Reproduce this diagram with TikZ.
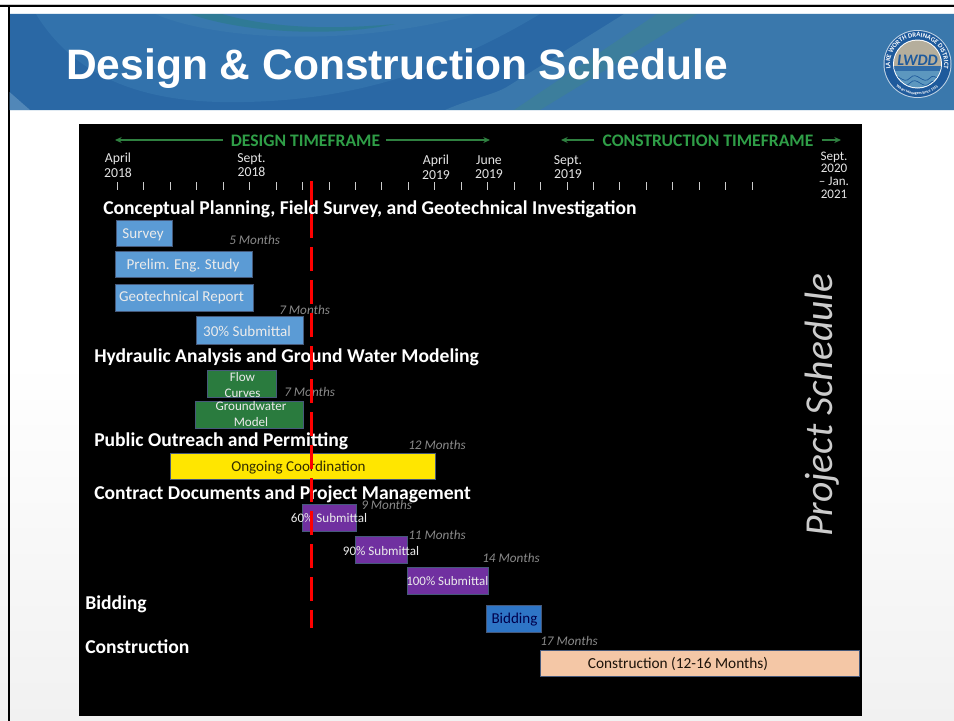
\documentclass[tikz,border=0pt]{standalone}
\usepackage{fontspec}
\setmainfont{Carlito}
\newfontfamily\arialfont{Liberation Sans}
\usetikzlibrary{arrows.meta,decorations.text,shadings}
\definecolor{bandA}{HTML}{3A78AC}
\definecolor{bandB}{HTML}{2A68A5}
\definecolor{bandM}{HTML}{3272AC}
\definecolor{bandL}{HTML}{3878AE}
\definecolor{teal1}{HTML}{3C7E9C}
\definecolor{teal2}{HTML}{2F7A96}
\definecolor{ringblue}{HTML}{1E5A9C}
\definecolor{sky}{HTML}{B5AE9C}
\definecolor{water}{HTML}{5C97BF}
\definecolor{pageB}{HTML}{F1F1F1}
\definecolor{tgreen}{HTML}{2F9E47}
\definecolor{agreen}{HTML}{2F8040}
\definecolor{mon}{HTML}{8A8A8A}
\definecolor{lblue}{HTML}{5B9BD5}
\definecolor{dgreen}{HTML}{2A7B3E}
\definecolor{yel}{HTML}{FFE600}
\definecolor{purp}{HTML}{7030A0}
\definecolor{bid}{HTML}{2E75C6}
\definecolor{peach}{HTML}{F4C7A6}
\definecolor{edge}{HTML}{46597A}
\tikzset{
  barbox/.style={draw=edge,line width=0.7pt,inner sep=0pt,outer sep=0pt},
  bartext/.style={inner sep=0pt,yshift=-0.7pt,text=white!92!black,font=\fontsize{11.3}{12}\selectfont,align=center},
  smallbar/.style={font=\fontsize{9.8}{12}\selectfont},
  headtext/.style={inner sep=0pt,yshift=-1.1pt,anchor=west,text=white,font=\fontsize{14.7}{16}\selectfont\bfseries},
  monthtext/.style={inner sep=0pt,anchor=west,text=mon,font=\fontsize{9.9}{10}\selectfont\itshape},
  datetext/.style={inner sep=0pt,text=white!90!black,font=\fontsize{10.3}{11}\selectfont,align=center},
  frametext/.style={inner sep=0pt,text=tgreen,font=\fontsize{13.2}{14}\selectfont\bfseries},
  framearrow/.style={draw=agreen,line width=0.8pt,-{Stealth[length=5pt,width=4.5pt]}},
  tickmark/.style={draw=white!80!black,line width=0.6pt},
  redline/.style={draw=red,line width=1.9pt,dash pattern=on 18pt off 6.75pt}
}
\newcommand{\barnode}[6]{\node[barbox,fill=#6,minimum width={(#4-#2)*0.75pt},minimum height={(#5-#3)*0.75pt}] (#1) at ({(#2+#4)/2},{(#3+#5)/2}) {};}
\begin{document}
\begin{tikzpicture}[x=0.75pt,y=-0.75pt]
\useasboundingbox (0,0) rectangle (954,721);
% page
\shade[top color=white,bottom color=pageB,middle color=white] (0,0) rectangle (954,721);
\fill[white] (0,0) rectangle (954,115);
\fill[white!60!gray] (0,3.5) rectangle (954,5);
\fill[black] (0,5) rectangle (954,7);
\fill[black] (7.5,5) rectangle (9.5,721);
% header band
\begin{scope}
\clip (9.5,14) rectangle (954,110);
\fill[bandB] (9.5,14) rectangle (954,110);
\fill[bandM] (36,14) .. controls (70,70) and (130,100) .. (220,102) .. controls (330,104) and (430,80) .. (540,14) -- cycle;
\fill[bandL] (155,14) .. controls (210,38) and (340,50) .. (475,14) -- cycle;
\fill[bandA] (624,14) -- (954,14) -- (954,110) -- (445,110) .. controls (475,97) and (495,95) .. (510,85) -- cycle;
\fill[bandM!85!white] (9.5,92) -- (30,110) -- (9.5,110) -- cycle;
\fill[teal2] (190,14) .. controls (240,32) and (330,38) .. (395,24) .. controls (330,30) and (270,28) .. (222,14) -- cycle;
\fill[teal1] (657,14) -- (697,14) -- (540,110) -- (514,110) -- cycle;
\end{scope}
\fill[white!85!bandA] (9.5,109.5) rectangle (954,111);
\fill[white!85!bandA] (9.5,12.5) rectangle (954,14);
\node[inner sep=0pt,anchor=west,text=white,font=\arialfont\fontsize{31.9}{36}\selectfont\bfseries] (title) at (66,68.5) {Design \& Construction Schedule};
% logo
\fill[white!70!bandB] (917.5,64) circle[radius=34*0.75pt];
\fill[ringblue] (917.5,64) circle[radius=33*0.75pt];
\fill[white] (917.5,64) circle[radius=24.5*0.75pt];
\begin{scope}
\clip (917.5,64) circle[radius=23.5*0.75pt];
\fill[sky] (890,38) rectangle (945,66);
\fill[water] (890,66) rectangle (945,92);
\fill[ringblue!70!water] (890,66) rectangle (945,71);
\draw[ringblue,line width=0.5pt] (890,78) .. controls (897,70) and (903,86) .. (910,78) .. controls (917,70) and (923,86) .. (930,78) .. controls (935,72) and (940,84) .. (945,78);
\draw[ringblue,line width=0.5pt] (890,83) .. controls (897,75) and (903,91) .. (910,83) .. controls (917,75) and (923,91) .. (930,83) .. controls (935,77) and (940,89) .. (945,83);
\end{scope}
\node[inner sep=0pt,text=ringblue,font=\fontsize{12}{14}\selectfont\bfseries\itshape] (logoname) at (917.5,60.5) {LWDD};
\path[decorate,decoration={text along path,text align=center,text={|\fontsize{5}{5}\selectfont\bfseries\color{white}|LAKE WORTH DRAINAGE DISTRICT}}]
  (891,70.5) arc[start angle=194,end angle=-14,radius=27*0.75pt];
\path[decorate,decoration={text along path,reverse path,text align=center,text={|\fontsize{3}{3}\selectfont\bfseries\color{white}|Water Managers Since 1915}}]
  (938,87) arc[start angle=-48,end angle=-132,radius=31*0.75pt];
% panel
\fill[black] (79,124) rectangle (862,716);
% frame labels
\node[frametext] (design) at (305.5,140.5) {DESIGN TIMEFRAME};
\node[frametext] (constr) at (708,140.5) {CONSTRUCTION TIMEFRAME};
\coordinate (dl) at (115,140);
\coordinate (dr) at (490,140);
\coordinate (cl) at (561,140);
\coordinate (cr) at (841,140);
\draw[framearrow] (design.west)+(-8,-0.5) -- (dl);
\draw[framearrow] (design.east)+(6,-0.5) -- (dr);
\draw[framearrow] (constr.west)+(-8,-0.5) -- (cl);
\draw[framearrow] (constr.east)+(8,-0.5) -- (cr);
% dates
\node[datetext] (d1) at (118,165) {April\\2018};
\node[datetext] (d2) at (251.5,165) {Sept.\\2018};
\node[datetext] (d3) at (436,167) {April\\2019};
\node[datetext] (d4) at (489,167) {June\\2019};
\node[datetext] (d5) at (568,167) {Sept.\\2019};
\node[datetext,font=\fontsize{9.8}{9.5}\selectfont] (d6) at (834,175) {Sept.\\2020\\– Jan.\\2021};
% ticks
\foreach \i in {0,...,24}
  \draw[tickmark] ({117.3+26.45*\i},182) -- ({117.3+26.45*\i},190);
% bars
\barnode{survey}{116.7}{220}{172.3}{246.7}{lblue}
\barnode{prelim}{115.5}{251}{252.5}{277.7}{lblue}
\barnode{geo}{115.7}{284}{253}{311}{lblue}
\barnode{sub30}{196.3}{316.7}{303}{344}{lblue}
\barnode{flow}{207.7}{370.3}{276.7}{397}{dgreen}
\barnode{gw}{195.3}{401}{303}{428}{dgreen}
\barnode{ongoing}{170.3}{453.7}{435.3}{479.7}{yel}
\barnode{sub60}{302.3}{504.3}{356}{531}{purp}
\barnode{sub90}{355}{536.7}{407.3}{563}{purp}
\barnode{sub100}{407}{567.7}{488.7}{594.3}{purp}
\barnode{bidbar}{486.7}{605}{541.7}{632.3}{bid}
\barnode{constrbar}{540.7}{650}{859.3}{676.7}{peach}
% bar texts
\node[bartext] (tsurvey) at (143,234) {Survey};
\node[bartext] (tprelim) at (183,264.5) {Prelim. Eng. Study};
\node[bartext] (tgeo) at (181.5,297) {Geotechnical Report};
\node[bartext] (tsub30) at (247,330.5) {30\% Submittal};
\node[bartext,smallbar] (tflow) at (242.5,384) {Flow\\Curves};
\node[bartext,smallbar] (tgw) at (251,413.5) {Groundwater\\Model};
\node[bartext,text=black!80!yel] (tongoing) at (298.5,466.5) {Ongoing Coordination};
\node[bartext,smallbar] (tsub60) at (329,517) {60\% Submittal};
\node[bartext,smallbar] (tsub90) at (381,550.5) {90\% Submittal};
\node[bartext,smallbar,font=\fontsize{9.7}{12}\selectfont] (tsub100) at (447.3,580) {100\% Submittal};
\node[bartext,text=blue!30!black] (tbid) at (514.5,618.5) {Bidding};
\node[bartext,text=black!85!brown,font=\fontsize{11.5}{12}\selectfont] (tconstr) at (678,663.5) {Construction (12-16 Months)};
% headings
\node[headtext] (h1) at (103,207.5) {Conceptual Planning, Field Survey, and Geotechnical Investigation};
\node[headtext] (h2) at (94,355.5) {Hydraulic Analysis and Ground Water Modeling};
\node[headtext] (h3) at (94,439.5) {Public Outreach and Permitting};
\node[headtext] (h4) at (94,492.5) {Contract Documents and Project Management};
\node[headtext] (h5) at (85,602.5) {Bidding};
\node[headtext] (h6) at (85,645.5) {Construction};
% months
\node[monthtext] (m1) at (229,240) {5 Months};
\node[monthtext] (m2) at (279,309.5) {7 Months};
\node[monthtext] (m3) at (284,392) {7 Months};
\node[monthtext] (m4) at (408,445) {12 Months};
\node[monthtext] (m5) at (361,505) {9 Months};
\node[monthtext] (m6) at (408,534.5) {11 Months};
\node[monthtext] (m7) at (482,558) {14 Months};
\node[monthtext] (m8) at (540,641) {17 Months};
% today line
\coordinate (rt) at (311.3,181);
\coordinate (rb) at (311.3,628);
\draw[redline] (rt) -- (rb);
% side label
\node[inner sep=0pt,rotate=90,text=white!80!black,font=\fontsize{29.7}{30}\selectfont\itshape] (side) at (822,405) {Project Schedule};
\end{tikzpicture}
\end{document}
